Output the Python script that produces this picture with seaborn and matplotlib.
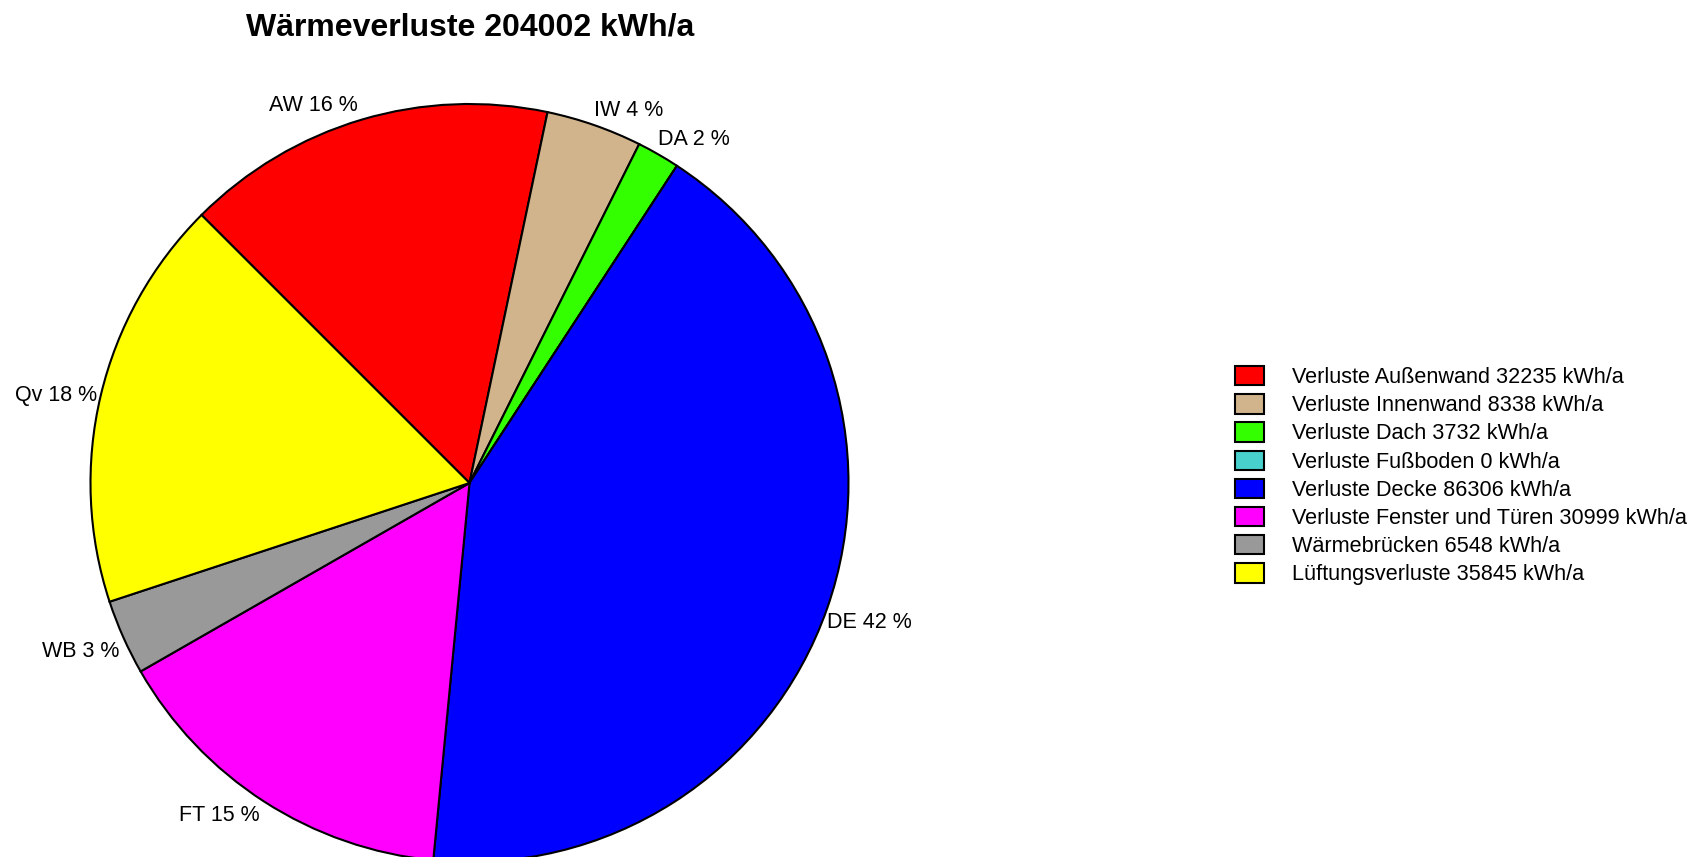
import matplotlib
matplotlib.use("Agg")
import matplotlib.pyplot as plt
from matplotlib.patches import Patch
import numpy as np
import seaborn as sns

# ---- data ----
title = "Wärmeverluste 204002 kWh/a"
categories = ["Verluste Außenwand", "Verluste Innenwand", "Verluste Dach",
              "Verluste Fußboden", "Verluste Decke", "Verluste Fenster und Türen",
              "Wärmebrücken", "Lüftungsverluste"]
short_labels = ["AW", "IW", "DA", "FB", "DE", "FT", "WB", "Qv"]
values = [32235, 8338, 3732, 0, 86306, 30999, 6548, 35845]
colors = ["#FF0000", "#D2B48C", "#33FF00", "#48D1CC", "#0000FF", "#FF00FF",
          "#999999", "#FFFF00"]

sns.set_theme(style="white")
plt.rcParams["font.family"] = ["Liberation Sans", "DejaVu Sans"]
plt.rcParams["text.color"] = "black"

W, H = 1696, 857
fig = plt.figure(figsize=(W / 100, H / 100), dpi=100)
ax = fig.add_axes([0, 0, 1, 1])

total = sum(values)
pie_labels = [f"{s} {round(v / total * 100)} %" if v > 0 else ""
              for s, v in zip(short_labels, values)]

wedges, texts = ax.pie(values, colors=colors, labels=pie_labels, startangle=135,
                       counterclock=False, labeldistance=1.0,
                       wedgeprops=dict(edgecolor="black", linewidth=1.5),
                       textprops=dict(fontsize=15.5, color="black"))

# place the unit pie: centre at pixel (469.5, 483), radius 379 px
cxp, cyp, rp = 469.5, 483, 379
ax.set_xlim(-cxp / rp, (W - cxp) / rp)
ax.set_ylim(-(H - cyp) / rp, cyp / rp)
ax.set_aspect("equal")
ax.axis("off")

# labels sit just outside the rim: above it on the upper half, below on the lower
for t in texts:
    x, y = t.get_position()
    s = y / max(np.hypot(x, y), 1e-9)
    frac = np.clip((abs(s) - 0.24) / 0.09, 0, 1)
    dx = (-4 if x < 0 else 0) / rp
    t.set_position((x + dx, y + np.sign(s) * frac * 14.5 / rp))

fig.text(470 / W, 1 - 28 / H, title, ha="center", va="center",
         fontsize=23, fontweight="bold", color="black")

handles = [Patch(facecolor=c, edgecolor="black", linewidth=1.5) for c in colors]
leg_labels = [f"{c} {v} kWh/a" for c, v in zip(categories, values)]
fig.legend(handles, leg_labels, loc="upper left",
           bbox_to_anchor=(1235 / W, 1 - 366 / H), frameon=False,
           fontsize=15.6, handlelength=1.33, handleheight=1.0,
           handletextpad=1.3, labelspacing=0.28, borderpad=0, borderaxespad=0)

fig.savefig("out.png", dpi=100)
